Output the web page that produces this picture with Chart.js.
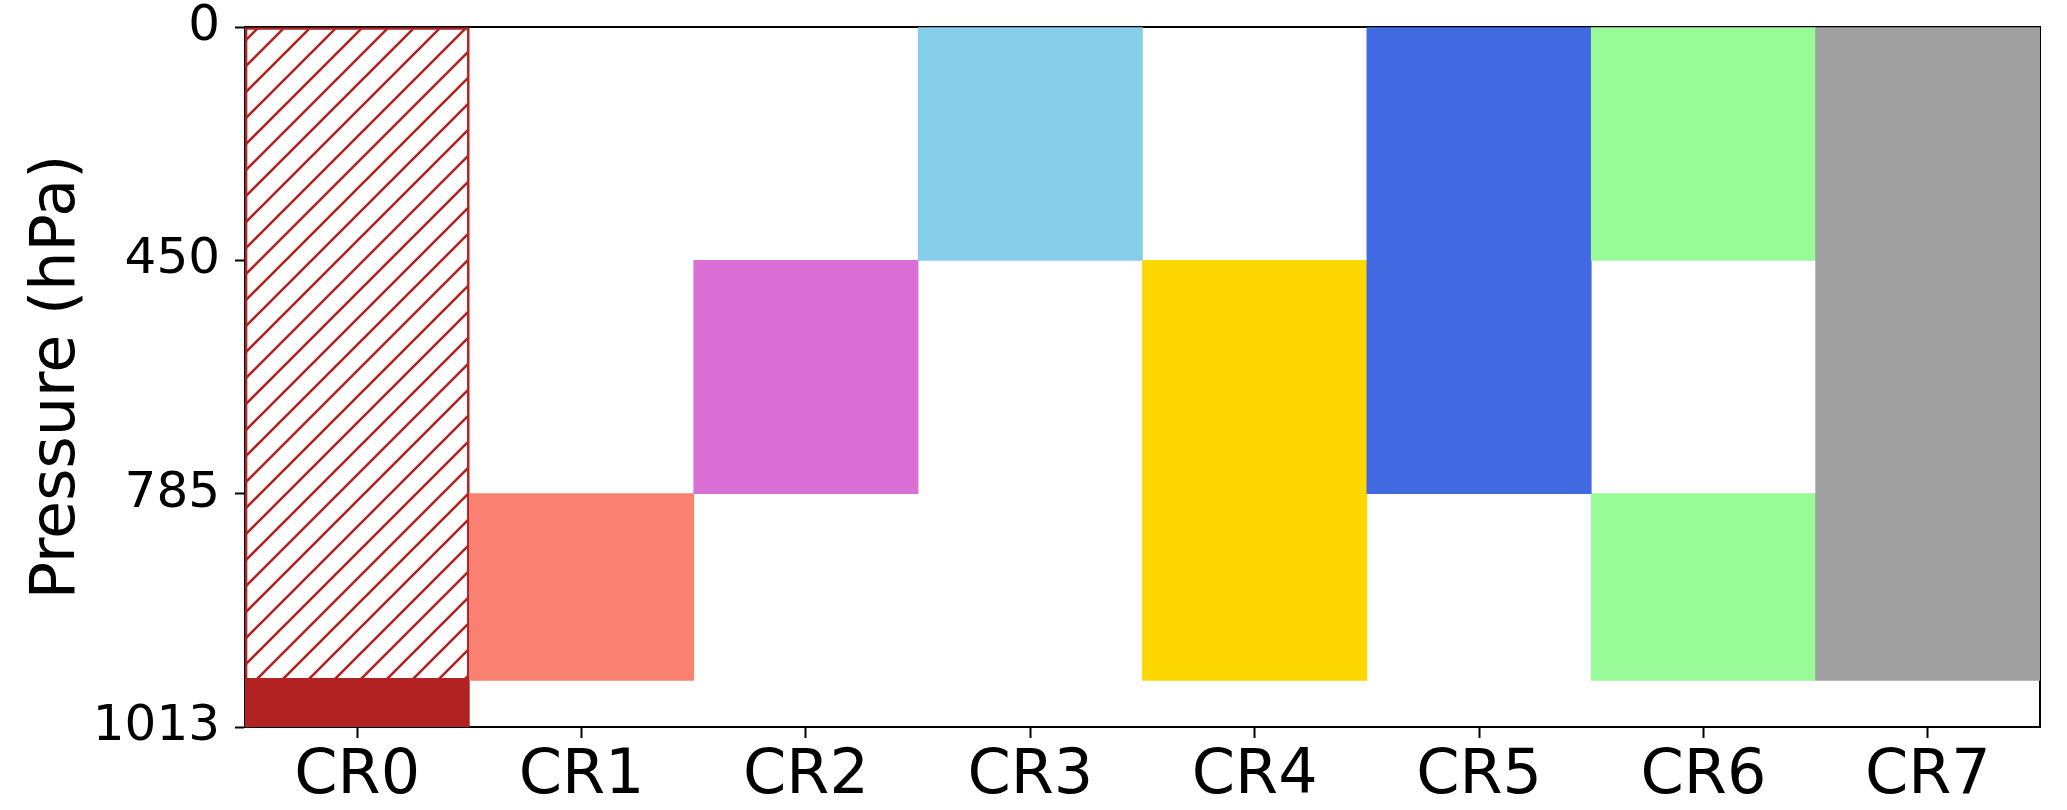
<!DOCTYPE html>
<html>
<head>
<meta charset="utf-8">
<script src="https://cdn.jsdelivr.net/npm/chart.js@4/dist/chart.umd.min.js"></script>
<style>
  body { margin: 0; background: #fff; }
  #wrap { width: 2067px; height: 810px; }
</style>
</head>
<body>
<div id="wrap"><canvas id="c" width="2067" height="810"></canvas></div>
<script>
// 分类与数据（纵轴按气压层序号 0..3 计）
const categories = ['CR0', 'CR1', 'CR2', 'CR3', 'CR4', 'CR5', 'CR6', 'CR7'];
const pressureTicks = ['0', '450', '785', '1013'];
const blockTop = [0, 2, 1, 0, 1, 0, 0, 0];
const blockBottom = [2.8, 2.8, 2, 1, 2.8, 2, 1, 2.8];
const extraTop = [2.8, null, null, null, null, null, 2, null];
const extraBottom = [3, null, null, null, null, null, 2.8, null];
const colors = ['#B22222', '#FA8072', '#DA70D6', '#87CEEB', '#FFD700', '#4169E1', '#98FB98', '#A0A0A0'];

// 斜线填充 (CR0)
function hatch (color) {
  const s = 26;
  const cv = document.createElement('canvas');
  cv.width = s; cv.height = s;
  const g = cv.getContext('2d');
  g.strokeStyle = color;
  g.lineWidth = 2.6;
  g.beginPath();
  g.moveTo(0, s); g.lineTo(s, 0);
  g.moveTo(-3, 3); g.lineTo(3, -3);
  g.moveTo(s - 3, s + 3); g.lineTo(s + 3, s - 3);
  g.stroke();
  return g.createPattern(cv, 'repeat');
}

const ctx = document.getElementById('c').getContext('2d');
const hatchFill = hatch(colors[0]);

const pair = (a, b) => a.map((v, i) => (v === null ? null : [v, b[i]]));

const mainBg = colors.map((c, i) => (i === 0 ? hatchFill : c));
const mainBorder = colors.map((c, i) => (i === 0 ? 2 : 0));

new Chart(ctx, {
  type: 'bar',
  data: {
    labels: categories,
    datasets: [
      {
        data: pair(blockTop, blockBottom),
        backgroundColor: mainBg,
        borderColor: colors,
        borderWidth: mainBorder,
        borderSkipped: false,
        grouped: false,
        barPercentage: 1,
        categoryPercentage: 1
      },
      {
        data: pair(extraTop, extraBottom),
        backgroundColor: colors,
        borderWidth: 0,
        grouped: false,
        barPercentage: 1,
        categoryPercentage: 1
      }
    ]
  },
  options: {
    responsive: false,
    animation: false,
    layout: { padding: { top: 27, right: 27, left: 0, bottom: 0 } },
    plugins: { legend: { display: false }, tooltip: { enabled: false } },
    scales: {
      x: {
        type: 'category',
        offset: true,
        grid: { display: true, drawOnChartArea: false, offset: false, tickLength: 11, tickWidth: 2, tickColor: '#000' },
        border: { display: true, color: '#000', width: 2 },
        ticks: { color: '#000', padding: 2, font: { family: 'DejaVu Sans', size: 62 } },
        afterFit: (s) => { s.height = 83; s.paddingLeft = 0; s.paddingRight = 0; }
      },
      y: {
        type: 'linear',
        reverse: true,
        min: 0,
        max: 3,
        grid: { display: true, drawOnChartArea: false, tickLength: 10, tickWidth: 2, tickColor: '#000' },
        border: { display: true, color: '#000', width: 2 },
        ticks: {
          stepSize: 1,
          color: '#000',
          padding: 15,
          font: { family: 'DejaVu Sans', size: 50 },
          callback: (v) => pressureTicks[v]
        },
        title: {
          display: true,
          text: 'Pressure (hPa)',
          color: '#000',
          padding: { top: 21, bottom: 0 },
          font: { family: 'DejaVu Sans', size: 62 }
        },
        // 去掉刻度文字引起的上下留白
        afterFit: (s) => { s.width = 245; s.paddingTop = 0; s.paddingBottom = 0; }
      },
      x2: {
        type: 'category',
        position: 'top',
        grid: { display: false },
        border: { display: true, color: '#000', width: 2 },
        ticks: { display: false },
        afterFit: (s) => { s.height = 0; }
      },
      y2: {
        type: 'linear',
        position: 'right',
        grid: { display: false },
        border: { display: true, color: '#000', width: 2 },
        ticks: { display: false },
        afterFit: (s) => { s.width = 0; }
      }
    }
  }
});
</script>
</body>
</html>
